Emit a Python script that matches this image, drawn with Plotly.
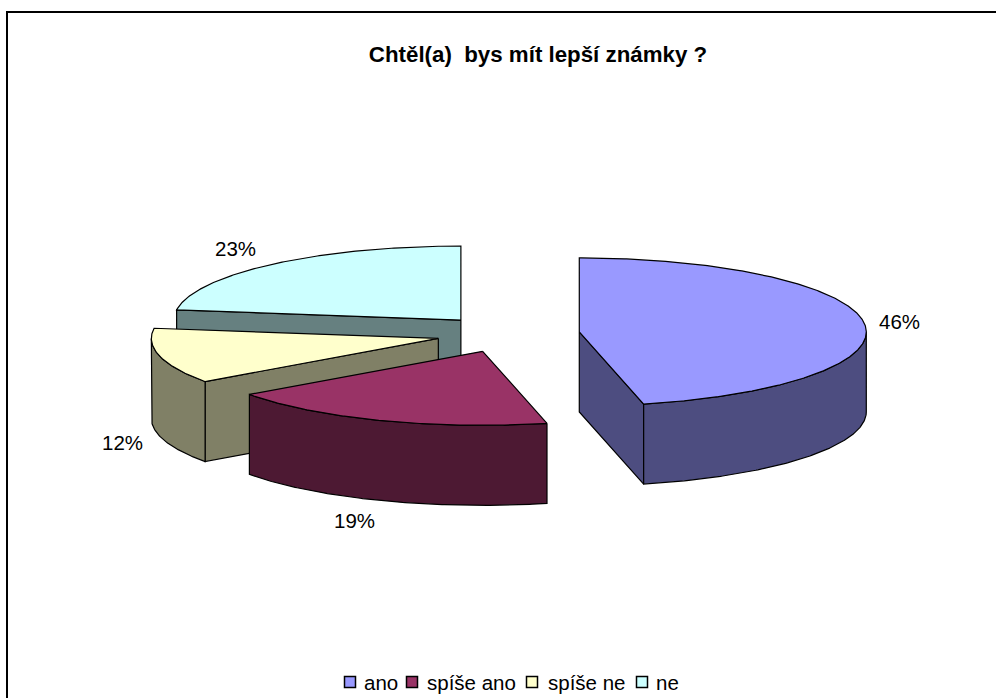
import math
import plotly.graph_objects as go

# --- data ---
categories = ["ano", "spíše ano", "spíše ne", "ne"]
percent_values = [46.4, 18.7, 12.1, 22.8]
top_colors = ["#9999FF", "#993366", "#FFFFCC", "#CCFFFF"]
side_colors = ["#4D4D80", "#4D1933", "#808066", "#668080"]
title_text = "Chtěl(a)  bys mít lepší známky ?"

# --- pie projection (pixel-based axes) ---
CX, CY, RX, RY, DEPTH, EXPLODE = 508, 334, 287, 74, 80, 0.25
FONT = "Liberation Sans, Arial, sans-serif"
label_pos = [(899, 321), (354, 520), (122, 442), (235, 248)]
legend_box_x = [350, 412, 532, 642]
legend_text_x = [362, 425, 546, 654]
LEGEND_Y = 682


def pt(ax, ay, deg, r=1.0, dz=0):
    t = math.radians(deg)
    return ax + r * RX * math.sin(t), ay - r * RY * math.cos(t) + dz


def arc(ax, ay, a0, a1, dz=0):
    n = max(2, int(abs(a1 - a0)) * 2)
    return [pt(ax, ay, a0 + (a1 - a0) * i / n, dz=dz) for i in range(n + 1)]


spans = []
start = 0.0
total = sum(percent_values)
for v in percent_values:
    end = start + 360.0 * v / total
    spans.append((start, end))
    start = end

fig = go.Figure()


def poly(points, color):
    xs = [p[0] for p in points] + [points[0][0]]
    ys = [p[1] for p in points] + [points[0][1]]
    fig.add_trace(go.Scatter(x=xs, y=ys, mode="lines", fill="toself", fillcolor=color,
                             line=dict(color="black", width=1.2), hoverinfo="skip",
                             showlegend=False))


def radial_wall(ax, ay, deg, color):
    e = pt(ax, ay, deg)
    poly([(ax, ay), e, (e[0], e[1] + DEPTH), (ax, ay + DEPTH)], color)


# paint back to front: ne, spíše ne, ano, spíše ano
for i in [3, 2, 0, 1]:
    a0, a1 = spans[i]
    mid = (a0 + a1) / 2
    ax, ay = pt(CX, CY, mid, r=EXPLODE)
    if math.cos(math.radians(a0 - 90)) < -1e-6:
        radial_wall(ax, ay, a0, side_colors[i])
    if math.cos(math.radians(a1 + 90)) < -1e-6:
        radial_wall(ax, ay, a1, side_colors[i])
    w0, w1 = max(a0, 90), min(a1, 270)
    if w1 > w0:
        poly(arc(ax, ay, w0, w1) + arc(ax, ay, w1, w0, dz=DEPTH), side_colors[i])
    poly([(ax, ay)] + arc(ax, ay, a0, a1), top_colors[i])

# legend keys and labels
fig.add_trace(go.Scatter(
    x=legend_box_x, y=[LEGEND_Y] * 4, mode="markers", hoverinfo="skip", showlegend=False,
    marker=dict(symbol="square", size=11, color=top_colors, line=dict(color="black", width=1.5))))

for name, x in zip(categories, legend_text_x):
    fig.add_annotation(x=x, y=LEGEND_Y, text=name, showarrow=False, xanchor="left",
                       yanchor="middle", font=dict(family=FONT, size=20.5, color="black"))

for v, (x, y) in zip(percent_values, label_pos):
    fig.add_annotation(x=x, y=y, text=f"{round(v)}%", showarrow=False, xanchor="center",
                       yanchor="middle", font=dict(family=FONT, size=20.5, color="black"))

# chart-area frame runs off the right and bottom of the picture
fig.add_shape(type="rect", x0=7, y0=12, x1=1100, y1=800, line=dict(color="black", width=2),
              layer="above")

fig.update_layout(
    width=996, height=698, autosize=False,
    margin=dict(l=0, r=0, t=0, b=0),
    paper_bgcolor="white", plot_bgcolor="white",
    showlegend=False,
    title=dict(text=f"<b>{title_text}</b>", x=538 / 996, xanchor="center",
               y=1 - 54 / 698, yanchor="middle",
               font=dict(family=FONT, size=22.3, color="black")),
    xaxis=dict(range=[0, 996], visible=False, fixedrange=True),
    yaxis=dict(range=[698, 0], visible=False, fixedrange=True),
)
fig.write_html("out.html", config=dict(displayModeBar=False),
               post_script="document.body.style.margin='0';document.documentElement.style.overflow='hidden';")
